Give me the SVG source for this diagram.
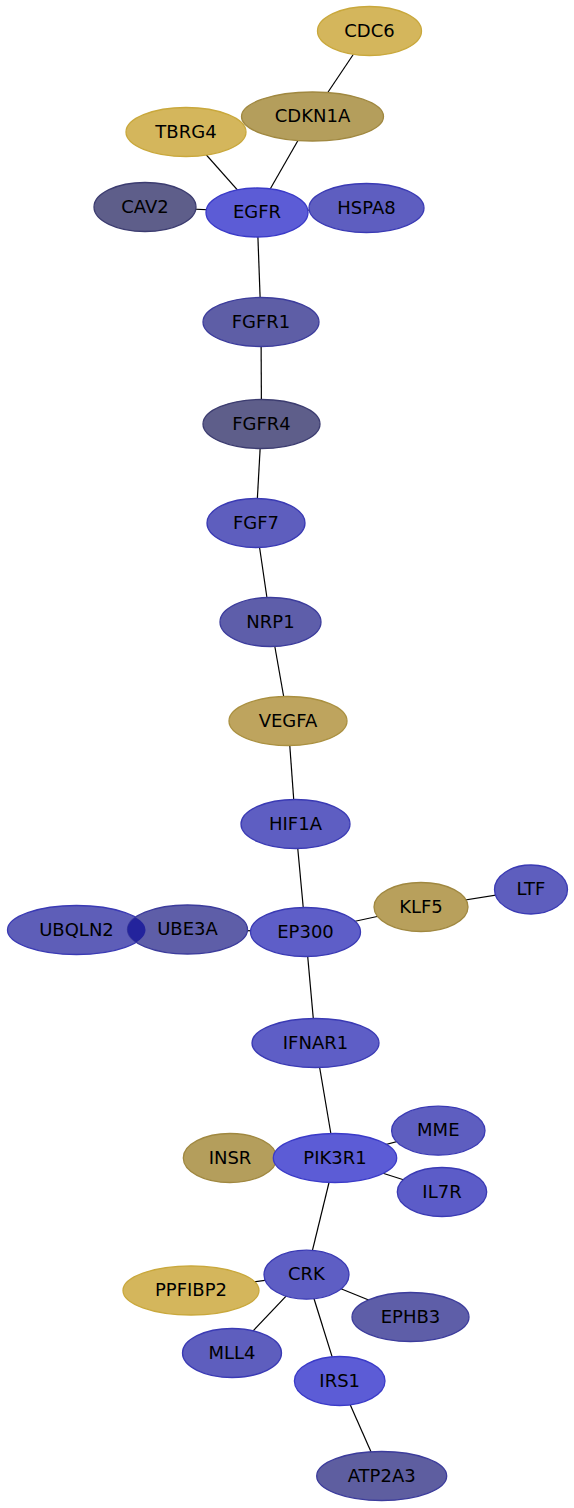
<svg xmlns="http://www.w3.org/2000/svg" width="574" height="1508" viewBox="0 0 574 1508">
<style>
.e{stroke:#000;stroke-width:1.2;fill:none}
.n ellipse{stroke-width:1.3}
.n text{font-family:"DejaVu Sans",sans-serif;font-size:18px;fill:#000;text-anchor:middle}
.gold{fill:#d4b65c;stroke:#c9a83c}
.tan{fill:#b49e5c;stroke:#a08840}
.ochre{fill:#bea45e;stroke:#aa9040}
.b1{fill:#5c5cd6;stroke:#3a3ac8}
.b2{fill:#5e5ec2;stroke:#3a3ab4}
.b3{fill:#5e5eaa;stroke:#3c3c9c}
.b4{fill:#5e5e8a;stroke:#3c3c70}
</style>
<rect width="574" height="1508" fill="#fff"/>
<defs>
<clipPath id="cUB"><ellipse cx="76.5" cy="930" rx="69" ry="24.5"/></clipPath>
</defs>
<g id="edges">
<line class="e" x1="369" y1="31" x2="312" y2="116"/>
<line class="e" x1="312" y1="116" x2="257" y2="212"/>
<line class="e" x1="186" y1="132" x2="257" y2="212"/>
<line class="e" x1="145" y1="207" x2="257" y2="212"/>
<line class="e" x1="257" y1="212" x2="366" y2="208"/>
<line class="e" x1="257" y1="212" x2="261" y2="322"/>
<line class="e" x1="261" y1="322" x2="261.5" y2="424"/>
<line class="e" x1="261.5" y1="424" x2="256" y2="523"/>
<line class="e" x1="256" y1="523" x2="270.5" y2="622"/>
<line class="e" x1="270.5" y1="622" x2="288" y2="721"/>
<line class="e" x1="288" y1="721" x2="295.5" y2="824"/>
<line class="e" x1="295.5" y1="824" x2="305.5" y2="932"/>
<line class="e" x1="76.5" y1="930" x2="187.5" y2="929.5"/>
<line class="e" x1="187.5" y1="929.5" x2="305.5" y2="932"/>
<line class="e" x1="305.5" y1="932" x2="421" y2="907"/>
<line class="e" x1="421" y1="907" x2="531" y2="889.5"/>
<line class="e" x1="305.5" y1="932" x2="315.5" y2="1043"/>
<line class="e" x1="315.5" y1="1043" x2="335" y2="1158"/>
<line class="e" x1="230" y1="1158" x2="335" y2="1158"/>
<line class="e" x1="335" y1="1158" x2="438.3" y2="1130.7"/>
<line class="e" x1="335" y1="1158" x2="442" y2="1192"/>
<line class="e" x1="335" y1="1158" x2="306.5" y2="1274.7"/>
<line class="e" x1="306.5" y1="1274.7" x2="191" y2="1290.5"/>
<line class="e" x1="306.5" y1="1274.7" x2="410.5" y2="1317"/>
<line class="e" x1="306.5" y1="1274.7" x2="232" y2="1353"/>
<line class="e" x1="306.5" y1="1274.7" x2="339.7" y2="1381"/>
<line class="e" x1="339.7" y1="1381" x2="381.7" y2="1476"/>
</g>
<g id="CDC6" class="n"><ellipse class="gold" cx="369.5" cy="31" rx="52" ry="24.5"/><text x="369.5" y="36.5">CDC6</text></g>
<g id="CDKN1A" class="n"><ellipse class="tan" cx="312.5" cy="116.5" rx="71" ry="24.5"/><text x="312.5" y="122">CDKN1A</text></g>
<g id="TBRG4" class="n"><ellipse class="gold" cx="186" cy="132" rx="60" ry="24.5"/><text x="186" y="137.5">TBRG4</text></g>
<g id="CAV2" class="n"><ellipse class="b4" cx="145" cy="207" rx="51" ry="24.5"/><text x="145" y="212.5">CAV2</text></g>
<g id="EGFR" class="n"><ellipse class="b1" cx="257" cy="212.5" rx="51" ry="24.5"/><text x="257" y="218">EGFR</text></g>
<g id="HSPA8" class="n"><ellipse class="b2" cx="366.5" cy="208" rx="57.5" ry="24.5" style="fill:#5e5ec0"/><text x="366.5" y="213.5">HSPA8</text></g>
<g id="FGFR1" class="n"><ellipse class="b3" cx="261" cy="322" rx="58" ry="24.5" style="fill:#5e5ea6"/><text x="261" y="327.5">FGFR1</text></g>
<g id="FGFR4" class="n"><ellipse class="b4" cx="261.5" cy="424" rx="58.5" ry="24.5"/><text x="261.5" y="429.5">FGFR4</text></g>
<g id="FGF7" class="n"><ellipse class="b2" cx="256" cy="523" rx="49" ry="24.5" style="fill:#5e5ebe"/><text x="256" y="528.5">FGF7</text></g>
<g id="NRP1" class="n"><ellipse class="b3" cx="270.5" cy="622" rx="50.5" ry="24.5"/><text x="270.5" y="627.5">NRP1</text></g>
<g id="VEGFA" class="n"><ellipse class="ochre" cx="288" cy="721" rx="59" ry="24.5"/><text x="288" y="726.5">VEGFA</text></g>
<g id="HIF1A" class="n"><ellipse class="b2" cx="295.5" cy="824" rx="54.5" ry="24.5"/><text x="295.5" y="829.5">HIF1A</text></g>
<g id="UBQLN2" class="n"><ellipse class="b2" cx="76.5" cy="930" rx="69" ry="24.5" style="fill:#5e5eb8"/><text x="76.5" y="935.5">UBQLN2</text></g>
<g id="UBE3A" class="n"><ellipse class="b3" cx="187.5" cy="929.5" rx="60" ry="24.5" style="fill:#5e5ea8"/><ellipse cx="187.5" cy="929.5" rx="60" ry="24.5" fill="#23239c" clip-path="url(#cUB)"/><text x="187.5" y="935">UBE3A</text></g>
<g id="EP300" class="n"><ellipse class="b2" cx="305.5" cy="932" rx="55" ry="24.5" style="fill:#5e5ec8"/><text x="305.5" y="937.5">EP300</text></g>
<g id="KLF5" class="n"><ellipse class="tan" cx="421" cy="907" rx="47" ry="24.5" style="fill:#b8a05c"/><text x="421" y="912.5">KLF5</text></g>
<g id="LTF" class="n"><ellipse class="b2" cx="531" cy="889.5" rx="36.5" ry="24.5" style="fill:#5e5ebe"/><text x="531" y="895">LTF</text></g>
<g id="IFNAR1" class="n"><ellipse class="b2" cx="315.5" cy="1043" rx="63.5" ry="24.5" style="fill:#5e5ec6"/><text x="315.5" y="1048.5">IFNAR1</text></g>
<g id="INSR" class="n"><ellipse class="tan" cx="230" cy="1158" rx="46.7" ry="24.5"/><text x="230" y="1163.5">INSR</text></g>
<g id="PIK3R1" class="n"><ellipse class="b1" cx="335" cy="1158" rx="61.7" ry="24.5"/><text x="335" y="1163.5">PIK3R1</text></g>
<g id="MME" class="n"><ellipse class="b2" cx="438.3" cy="1130.7" rx="46.7" ry="24.5" style="fill:#5e5ec0"/><text x="438.3" y="1136.2">MME</text></g>
<g id="IL7R" class="n"><ellipse class="b2" cx="442" cy="1192" rx="44.7" ry="24.5" style="fill:#5c5cc8"/><text x="442" y="1197.5">IL7R</text></g>
<g id="CRK" class="n"><ellipse class="b2" cx="306.5" cy="1274.7" rx="42.5" ry="24.5" style="fill:#5e5ec4"/><text x="306.5" y="1280.2">CRK</text></g>
<g id="PPFIBP2" class="n"><ellipse class="gold" cx="191" cy="1290.5" rx="68" ry="24.5"/><text x="191" y="1296">PPFIBP2</text></g>
<g id="EPHB3" class="n"><ellipse class="b3" cx="410.5" cy="1317" rx="58.5" ry="24.5" style="fill:#5e5ea8"/><text x="410.5" y="1322.5">EPHB3</text></g>
<g id="MLL4" class="n"><ellipse class="b2" cx="232" cy="1353" rx="49.5" ry="24.5" style="fill:#5e5ebe"/><text x="232" y="1358.5">MLL4</text></g>
<g id="IRS1" class="n"><ellipse class="b1" cx="339.7" cy="1381" rx="45.3" ry="24.5"/><text x="339.7" y="1386.5">IRS1</text></g>
<g id="ATP2A3" class="n"><ellipse class="b3" cx="381.7" cy="1476" rx="65" ry="24.5" style="fill:#5e5ea0"/><text x="381.7" y="1481.5">ATP2A3</text></g>
</svg>
